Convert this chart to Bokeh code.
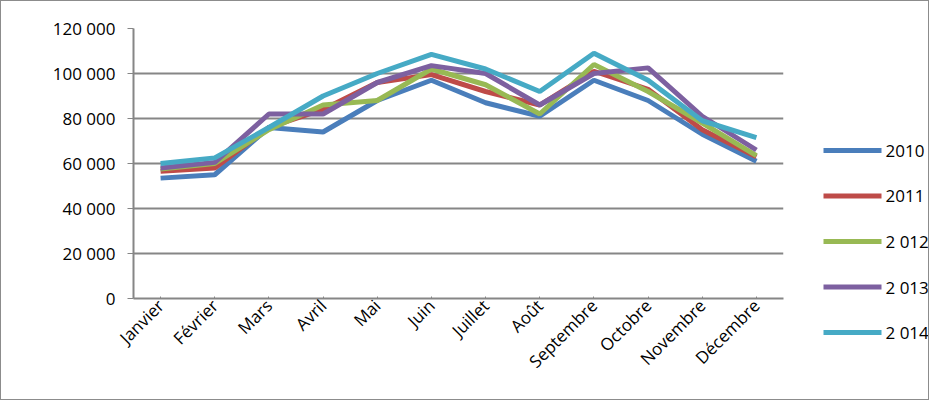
from bokeh.plotting import figure
from bokeh.models import FactorRange, Range1d, CustomJSTickFormatter, FixedTicker
from bokeh.core.properties import value
from bokeh.layouts import row
from bokeh.embed import file_html
from bokeh.resources import INLINE

months = ["Janvier", "Février", "Mars", "Avril", "Mai", "Juin", "Juillet", "Août",
          "Septembre", "Octobre", "Novembre", "Décembre"]
s2010 = [53500, 55000, 76000, 74000, 88000, 97000, 87000, 81000, 97000, 88000, 73000, 61000]
s2011 = [56500, 58000, 76000, 84000, 96000, 99500, 92000, 86000, 101000, 93000, 75000, 63000]
s2012 = [57500, 60000, 75000, 86000, 88000, 102000, 95000, 82000, 104000, 92000, 78000, 63500]
s2013 = [58000, 60500, 82000, 82000, 96000, 103500, 100000, 86000, 100000, 102500, 81000, 66000]
s2014 = [60000, 62500, 76000, 90000, 100000, 108500, 102000, 92000, 109000, 97000, 79000, 71500]
names = ["2010", "2011", "2 012", "2 013", "2 014"]
colors = ["#4a7ebb", "#be4b48", "#98b954", "#7d60a0", "#46aac5"]

FONT = "Open Sans"
p = figure(x_range=FactorRange(*months, range_padding=0), y_range=Range1d(0, 120000),
           width=800, height=398, output_backend="svg", toolbar_location=None,
           min_border_left=132, min_border_right=18, min_border_top=27, min_border_bottom=101)
p.outline_line_color = None

for s, c in zip([s2010, s2011, s2012, s2013, s2014], colors):
    p.line(months, s, line_color=c, line_width=5)

p.yaxis.ticker = FixedTicker(ticks=list(range(0, 120001, 20000)))
p.yaxis.formatter = CustomJSTickFormatter(code="return tick == 0 ? '0' : Math.floor(tick/1000) + ' 000';")
p.xgrid.grid_line_color = None
p.ygrid.grid_line_color = "#868686"
p.ygrid.grid_line_width = 2
for ax in (p.xaxis, p.yaxis):
    ax.axis_line_color = "#868686"
    ax.axis_line_width = 2
    ax.major_tick_line_color = "#868686"
    ax.minor_tick_line_color = None
    ax.major_label_text_font = FONT
    ax.major_label_text_font_size = "17px"
    ax.major_label_text_color = "black"
p.yaxis.major_tick_in = 0
p.yaxis.major_tick_out = 6
p.yaxis.major_label_standoff = 12
p.xaxis.major_tick_out = 0
p.xaxis.major_label_orientation = 0.785
p.xaxis.major_label_standoff = 4

# hand-made legend in a small figure whose ranges are in pixels
lf = figure(frame_width=127, frame_height=398, output_backend="svg", toolbar_location=None,
            x_range=Range1d(0, 127), y_range=Range1d(0, 398),
            min_border=0, x_axis_type=None, y_axis_type=None)
lf.outline_line_color = None
lf.grid.grid_line_color = None
ys = [398 - (122 + 45.5 * i) for i in range(len(names))]
lf.segment(x0=22, x1=80, y0=ys, y1=ys, line_color=colors, line_width=5)
lf.text(x=84, y=ys, text=names, text_font=value(FONT), text_font_size="17px",
        text_baseline="middle", text_color="black")

layout = row(p, lf)
layout.styles = {"border": "1px solid #8c8c8c"}
open("out.html", "w").write(file_html(layout, INLINE))
